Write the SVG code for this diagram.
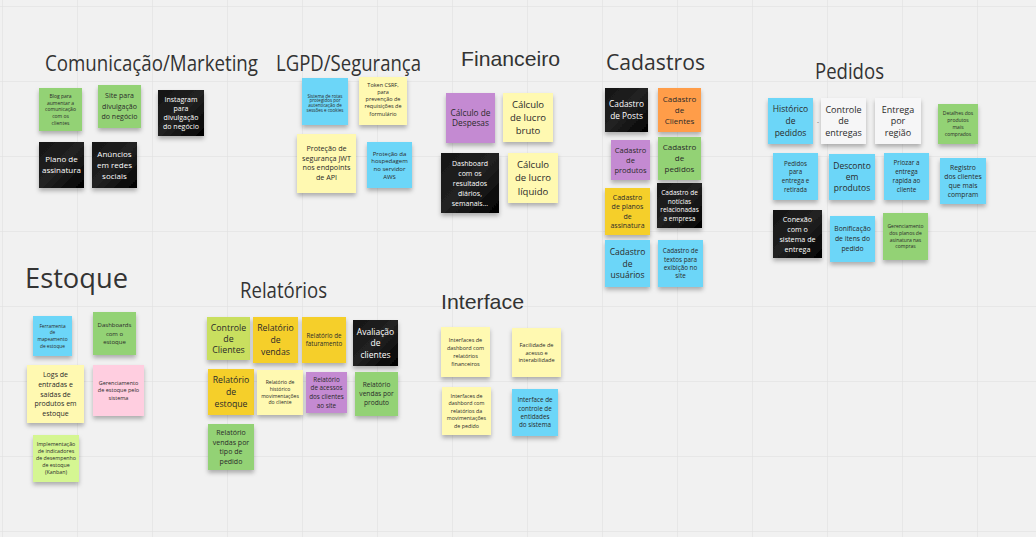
<svg xmlns="http://www.w3.org/2000/svg" width="1036" height="537" viewBox="0 0 1036 537">
  <defs>
    <pattern id="grid" x="2" y="6" width="75" height="75" patternUnits="userSpaceOnUse">
      <path d="M0 0 H75 M0 0 V75" fill="none" stroke="#e3e3e3" stroke-width="1.5"/>
    </pattern>
    <filter id="shadow" x="-20%" y="-20%" width="140%" height="150%">
      <feDropShadow dx="0" dy="3" stdDeviation="2" flood-color="#000" flood-opacity="0.28"/>
    </filter>
    <linearGradient id="blackNote" x1="0" y1="0" x2="1" y2="1">
      <stop offset="0" stop-color="#151515"/>
      <stop offset="0.5" stop-color="#222"/>
      <stop offset="1" stop-color="#000"/>
    </linearGradient>
  </defs>
  <style>
    .n { filter: url(#shadow); }
    .blue { fill: #6cd6f8; }
    .ly { fill: #fff9b1; }
    .yel { fill: #f5cf2c; }
    .org { fill: #ff9d48; }
    .vio { fill: #c48ad2; }
    .dg { fill: #93d275; }
    .lime { fill: #c9df5e; }
    .lg { fill: #d5f692; }
    .pink { fill: #ffcee0; }
    .gray { fill: #f6f6f7; }
    .blk { fill: url(#blackNote); }
    text { font-family: "Open Sans", "Liberation Sans", sans-serif; }
    .t { text-anchor: middle; fill: #2a2a2a; }
    .w { text-anchor: middle; fill: #ffffff; }
    .title { fill: #333333; font-size: 21px; }
    .titleA { fill: #333333; font-family: "Liberation Sans", Arial, sans-serif; font-size: 21px; }
  </style>

  <!-- board background -->
  <rect width="1036" height="537" fill="#f1f1f1"/>
  <rect width="1036" height="537" fill="url(#grid)"/>

  <!-- section titles -->
  <g id="titles">
    <text class="title" x="45" y="71" textLength="213" lengthAdjust="spacingAndGlyphs">Comunicação/Marketing</text>
    <text class="title" x="276" y="71" textLength="145" lengthAdjust="spacingAndGlyphs">LGPD/Segurança</text>
    <text class="titleA" x="461" y="66" textLength="99" lengthAdjust="spacingAndGlyphs">Financeiro</text>
    <text class="title" x="606" y="70" textLength="99" lengthAdjust="spacingAndGlyphs">Cadastros</text>
    <text class="title" x="815" y="79" textLength="69" lengthAdjust="spacingAndGlyphs">Pedidos</text>
    <text class="title" x="25" y="288" style="font-size:28px" textLength="103" lengthAdjust="spacingAndGlyphs">Estoque</text>
    <text class="title" x="240" y="298" textLength="87" lengthAdjust="spacingAndGlyphs">Relatórios</text>
    <text class="titleA" x="441" y="309" textLength="83" lengthAdjust="spacingAndGlyphs">Interface</text>
  </g>

  <!-- Comunicação/Marketing -->
  <g id="com-blog"><rect class="n dg" x="39" y="88" width="43" height="43"/>
    <text class="t" font-size="5"><tspan x="60.5" y="97.9">Blog para</tspan><tspan x="60.5" y="104.6">aumentar a</tspan><tspan x="60.5" y="111.3">comunicação</tspan><tspan x="60.5" y="118">com os</tspan><tspan x="60.5" y="124.7">clientes</tspan></text></g>
  <g id="com-site"><rect class="n dg" x="98" y="85" width="43" height="43"/>
    <text class="t" font-size="7"><tspan x="119.5" y="98">Site para</tspan><tspan x="119.5" y="108.5">divulgação</tspan><tspan x="119.5" y="119">do negócio</tspan></text></g>
  <g id="com-instagram"><rect class="n blk" x="158" y="90" width="46" height="46"/>
    <text class="w" font-size="7"><tspan x="181" y="102">Instagram</tspan><tspan x="181" y="111">para</tspan><tspan x="181" y="120">divulgação</tspan><tspan x="181" y="129">do negócio</tspan></text></g>
  <g id="com-plano"><rect class="n blk" x="39" y="142" width="45" height="46"/>
    <text class="w" font-size="8"><tspan x="61.5" y="162.3">Plano de</tspan><tspan x="61.5" y="173.3">assinatura</tspan></text></g>
  <g id="com-anuncios"><rect class="n blk" x="92" y="142" width="45" height="46"/>
    <text class="w" font-size="8"><tspan x="114.5" y="156.8">Anúncios</tspan><tspan x="114.5" y="167.8">em redes</tspan><tspan x="114.5" y="178.8">sociais</tspan></text></g>

  <!-- LGPD/Segurança -->
  <g id="lgpd-rotas"><rect class="n blue" x="302" y="78" width="46" height="47"/>
    <text class="t" font-size="4.5"><tspan x="325" y="97.5">Sistema de rotas</tspan><tspan x="325" y="102.4">protegidos por</tspan><tspan x="325" y="107.3">autenticação de</tspan><tspan x="325" y="112.2">sessões e cookies</tspan></text></g>
  <g id="lgpd-csrf"><rect class="n ly" x="359" y="77" width="48" height="48"/>
    <text class="t" font-size="5.5"><tspan x="383" y="86.5">Token CSRF,</tspan><tspan x="383" y="93.8">para</tspan><tspan x="383" y="101.1">prevenção de</tspan><tspan x="383" y="108.4">requisições de</tspan><tspan x="383" y="115.7">formulário</tspan></text></g>
  <g id="lgpd-jwt"><rect class="n ly" x="297" y="134" width="59" height="59"/>
    <text class="t" font-size="7.2"><tspan x="326.5" y="151">Proteção de</tspan><tspan x="326.5" y="160.5">segurança JWT</tspan><tspan x="326.5" y="170">nos endpoints</tspan><tspan x="326.5" y="179.5">de API</tspan></text></g>
  <g id="lgpd-aws"><rect class="n blue" x="367" y="142" width="45" height="46"/>
    <text class="t" font-size="6"><tspan x="389.5" y="155.7">Proteção da</tspan><tspan x="389.5" y="163.3">hospedagem</tspan><tspan x="389.5" y="170.9">no servidor</tspan><tspan x="389.5" y="178.5">AWS</tspan></text></g>

  <!-- Financeiro -->
  <g id="fin-despesas"><rect class="n vio" x="446" y="93" width="49" height="50"/>
    <text class="t" font-size="8.3"><tspan x="470.5" y="115.5">Cálculo de</tspan><tspan x="470.5" y="126.2">Despesas</tspan></text></g>
  <g id="fin-bruto"><rect class="n ly" x="503" y="93" width="50" height="49"/>
    <text class="t" font-size="9.5"><tspan x="528" y="107.5">Cálculo</tspan><tspan x="528" y="120.8">de lucro</tspan><tspan x="528" y="134.1">bruto</tspan></text></g>
  <g id="fin-dashboard"><rect class="n blk" x="441" y="153" width="58" height="60"/>
    <text class="w" font-size="7"><tspan x="470" y="165.5">Dashboard</tspan><tspan x="470" y="175.5">com os</tspan><tspan x="470" y="185.5">resultados</tspan><tspan x="470" y="195.5">diários,</tspan><tspan x="470" y="205.5">semanais...</tspan></text></g>
  <g id="fin-liquido"><rect class="n ly" x="508" y="153" width="50" height="50"/>
    <text class="t" font-size="9.5"><tspan x="533" y="168">Cálculo</tspan><tspan x="533" y="181.3">de lucro</tspan><tspan x="533" y="194.6">líquido</tspan></text></g>

  <!-- Cadastros -->
  <g id="cad-posts"><rect class="n blk" x="605" y="88" width="43" height="44"/>
    <text class="w" font-size="8.3"><tspan x="626.5" y="107.3">Cadastro</tspan><tspan x="626.5" y="118.6">de Posts</tspan></text></g>
  <g id="cad-clientes"><rect class="n org" x="658" y="88" width="43" height="44"/>
    <text class="t" font-size="8"><tspan x="679.5" y="101.5">Cadastro</tspan><tspan x="679.5" y="112.8">de</tspan><tspan x="679.5" y="124.1">Clientes</tspan></text></g>
  <g id="cad-produtos"><rect class="n vio" x="611" y="140" width="39" height="40"/>
    <text class="t" font-size="7.5"><tspan x="630.5" y="152.6">Cadastro</tspan><tspan x="630.5" y="162.6">de</tspan><tspan x="630.5" y="172.6">produtos</tspan></text></g>
  <g id="cad-pedidos"><rect class="n dg" x="658" y="137" width="43" height="43"/>
    <text class="t" font-size="8"><tspan x="679.5" y="150.3">Cadastro</tspan><tspan x="679.5" y="161.3">de</tspan><tspan x="679.5" y="172.3">pedidos</tspan></text></g>
  <g id="cad-planos"><rect class="n yel" x="605" y="188" width="45" height="47"/>
    <text class="t" font-size="7"><tspan x="627.5" y="199.7">Cadastro</tspan><tspan x="627.5" y="209.2">de planos</tspan><tspan x="627.5" y="218.7">de</tspan><tspan x="627.5" y="228.2">assinatura</tspan></text></g>
  <g id="cad-noticias"><rect class="n blk" x="657" y="183" width="45" height="45"/>
    <text class="w" font-size="6.5"><tspan x="679.5" y="195">Cadastro de</tspan><tspan x="679.5" y="203.5">notícias</tspan><tspan x="679.5" y="212">relacionadas</tspan><tspan x="679.5" y="220.5">a empresa</tspan></text></g>
  <g id="cad-usuarios"><rect class="n blue" x="605" y="240" width="45" height="47"/>
    <text class="t" font-size="8.5"><tspan x="627.5" y="254.8">Cadastro</tspan><tspan x="627.5" y="266.5">de</tspan><tspan x="627.5" y="278.2">usuários</tspan></text></g>
  <g id="cad-textos"><rect class="n blue" x="658" y="240" width="45" height="47"/>
    <text class="t" font-size="6.3"><tspan x="680.5" y="253.3">Cadastro de</tspan><tspan x="680.5" y="261.6">textos para</tspan><tspan x="680.5" y="269.9">exibição no</tspan><tspan x="680.5" y="278.2">site</tspan></text></g>

  <!-- Pedidos -->
  <g id="ped-historico"><rect class="n blue" x="768" y="98" width="45" height="46"/>
    <text class="t" font-size="8.5"><tspan x="790.5" y="112.3">Histórico</tspan><tspan x="790.5" y="124">de</tspan><tspan x="790.5" y="135.7">pedidos</tspan></text></g>
  <text class="t" x="818" y="124" font-size="6">-</text>
  <g id="ped-controle"><rect class="n gray" x="821" y="98" width="45" height="46"/>
    <text class="t" font-size="9"><tspan x="843.5" y="112.5">Controle</tspan><tspan x="843.5" y="124.2">de</tspan><tspan x="843.5" y="135.9">entregas</tspan></text></g>
  <g id="ped-regiao"><rect class="n gray" x="875" y="98" width="46" height="46"/>
    <text class="t" font-size="9"><tspan x="898" y="112.5">Entrega</tspan><tspan x="898" y="124.2">por</tspan><tspan x="898" y="135.9">região</tspan></text></g>
  <g id="ped-detalhes"><rect class="n dg" x="938" y="104" width="40" height="40"/>
    <text class="t" font-size="5"><tspan x="958" y="115.3">Detalhes dos</tspan><tspan x="958" y="122.3">produtos</tspan><tspan x="958" y="129.3">mais</tspan><tspan x="958" y="136.3">comprados</tspan></text></g>
  <g id="ped-entrega-retirada"><rect class="n blue" x="773" y="153" width="45" height="47"/>
    <text class="t" font-size="6.2"><tspan x="795.5" y="165.7">Pedidos</tspan><tspan x="795.5" y="174.4">para</tspan><tspan x="795.5" y="183.1">entrega e</tspan><tspan x="795.5" y="191.8">retirada</tspan></text></g>
  <g id="ped-desconto"><rect class="n blue" x="829" y="154" width="46" height="46"/>
    <text class="t" font-size="8.5"><tspan x="852" y="168.7">Desconto</tspan><tspan x="852" y="180">em</tspan><tspan x="852" y="191.3">produtos</tspan></text></g>
  <g id="ped-priorizar"><rect class="n blue" x="884" y="153" width="45" height="47"/>
    <text class="t" font-size="6.3"><tspan x="906.5" y="165.2">Priozar a</tspan><tspan x="906.5" y="174.2">entrega</tspan><tspan x="906.5" y="183.2">rapida ao</tspan><tspan x="906.5" y="192.2">cliente</tspan></text></g>
  <g id="ped-registro"><rect class="n blue" x="940" y="158" width="46" height="46"/>
    <text class="t" font-size="6.8"><tspan x="963" y="169.9">Registro</tspan><tspan x="963" y="178.9">dos clientes</tspan><tspan x="963" y="187.9">que mais</tspan><tspan x="963" y="196.9">compram</tspan></text></g>
  <g id="ped-conexao"><rect class="n blk" x="773" y="210" width="49" height="48"/>
    <text class="w" font-size="7.2"><tspan x="797.5" y="221.5">Conexão</tspan><tspan x="797.5" y="231.5">com o</tspan><tspan x="797.5" y="241.5">sistema de</tspan><tspan x="797.5" y="251.5">entrega</tspan></text></g>
  <g id="ped-bonificacao"><rect class="n blue" x="830" y="216" width="45" height="46"/>
    <text class="t" font-size="6.8"><tspan x="852.5" y="231.4">Bonificação</tspan><tspan x="852.5" y="241.4">de itens do</tspan><tspan x="852.5" y="251.4">pedido</tspan></text></g>
  <g id="ped-planos"><rect class="n dg" x="883" y="213" width="45" height="47"/>
    <text class="t" font-size="5"><tspan x="905.5" y="228.2">Gerenciamento</tspan><tspan x="905.5" y="234.9">dos planos de</tspan><tspan x="905.5" y="241.6">asinatura nas</tspan><tspan x="905.5" y="248.3">compras</tspan></text></g>

  <!-- Estoque -->
  <g id="est-ferramenta"><rect class="n blue" x="33" y="316" width="39" height="40"/>
    <text class="t" font-size="4.8"><tspan x="52.5" y="327.7">Ferramenta</tspan><tspan x="52.5" y="334.4">de</tspan><tspan x="52.5" y="341.1">mapeamento</tspan><tspan x="52.5" y="347.8">de estoque</tspan></text></g>
  <g id="est-dashboards"><rect class="n dg" x="93" y="312" width="43" height="43"/>
    <text class="t" font-size="6"><tspan x="114.5" y="327.3">Dashboards</tspan><tspan x="114.5" y="335.6">com o</tspan><tspan x="114.5" y="343.9">estoque</tspan></text></g>
  <g id="est-logs"><rect class="n ly" x="27" y="365" width="57" height="58"/>
    <text class="t" font-size="7"><tspan x="55.5" y="376.9">Logs de</tspan><tspan x="55.5" y="386.7">entradas e</tspan><tspan x="55.5" y="396.5">saídas de</tspan><tspan x="55.5" y="406.3">produtos em</tspan><tspan x="55.5" y="416.1">estoque</tspan></text></g>
  <g id="est-gerenciamento"><rect class="n pink" x="93" y="365" width="51" height="51"/>
    <text class="t" font-size="5.5"><tspan x="118.5" y="384.6">Gerenciamento</tspan><tspan x="118.5" y="392.4">de estoque pelo</tspan><tspan x="118.5" y="400.2">sistema</tspan></text></g>
  <g id="est-kanban"><rect class="n lg" x="33" y="435" width="46" height="47"/>
    <text class="t" font-size="5.3"><tspan x="56" y="446.4">Implementação</tspan><tspan x="56" y="453.4">de indicadores</tspan><tspan x="56" y="460.4">de desempenho</tspan><tspan x="56" y="467.4">de estoque</tspan><tspan x="56" y="474.4">(Kanban)</tspan></text></g>

  <!-- Relatórios -->
  <g id="rel-clientes"><rect class="n lime" x="207" y="317" width="43" height="43"/>
    <text class="t" font-size="8.8"><tspan x="228.5" y="330.6">Controle</tspan><tspan x="228.5" y="341.6">de</tspan><tspan x="228.5" y="352.6">Clientes</tspan></text></g>
  <g id="rel-vendas"><rect class="n yel" x="253" y="317" width="45" height="46"/>
    <text class="t" font-size="8.7"><tspan x="275.5" y="331.3">Relatório</tspan><tspan x="275.5" y="343">de</tspan><tspan x="275.5" y="354.7">vendas</tspan></text></g>
  <g id="rel-faturamento"><rect class="n yel" x="302" y="317" width="44" height="46"/>
    <text class="t" font-size="6.2"><tspan x="324" y="338">Relatório de</tspan><tspan x="324" y="346.3">faturamento</tspan></text></g>
  <g id="rel-avaliacao"><rect class="n blk" x="353" y="320" width="45" height="46"/>
    <text class="w" font-size="8.5"><tspan x="375.5" y="334.5">Avaliação</tspan><tspan x="375.5" y="346">de</tspan><tspan x="375.5" y="357.5">clientes</tspan></text></g>
  <g id="rel-estoque"><rect class="n yel" x="208" y="369" width="46" height="46"/>
    <text class="t" font-size="8.7"><tspan x="231" y="383.3">Relatório</tspan><tspan x="231" y="395">de</tspan><tspan x="231" y="406.7">estoque</tspan></text></g>
  <g id="rel-historico"><rect class="n ly" x="257" y="370" width="46" height="45"/>
    <text class="t" font-size="5.1"><tspan x="280" y="384.3">Relatório de</tspan><tspan x="280" y="391">histórico</tspan><tspan x="280" y="397.7">movimentações</tspan><tspan x="280" y="404.4">do cliente</tspan></text></g>
  <g id="rel-acessos"><rect class="n vio" x="306" y="372" width="41" height="41"/>
    <text class="t" font-size="6.3"><tspan x="326.5" y="381.7">Relatório</tspan><tspan x="326.5" y="390.4">de acessos</tspan><tspan x="326.5" y="399.1">dos clientes</tspan><tspan x="326.5" y="407.8">ao site</tspan></text></g>
  <g id="rel-produto"><rect class="n dg" x="355" y="372" width="43" height="44"/>
    <text class="t" font-size="6.6"><tspan x="376.5" y="387.3">Relatório</tspan><tspan x="376.5" y="396.3">vendas por</tspan><tspan x="376.5" y="405.3">produto</tspan></text></g>
  <g id="rel-tipo-pedido"><rect class="n dg" x="208" y="424" width="46" height="46"/>
    <text class="t" font-size="7"><tspan x="231" y="434.8">Relatório</tspan><tspan x="231" y="444.6">vendas por</tspan><tspan x="231" y="454.4">tipo de</tspan><tspan x="231" y="464.2">pedido</tspan></text></g>

  <!-- Interface -->
  <g id="int-financeiros"><rect class="n ly" x="441" y="327" width="49" height="50"/>
    <text class="t" font-size="5.5"><tspan x="465.5" y="341.5">Interfaces de</tspan><tspan x="465.5" y="349.8">dashbord com</tspan><tspan x="465.5" y="358.1">relatórios</tspan><tspan x="465.5" y="366.4">financeiros</tspan></text></g>
  <g id="int-acesso"><rect class="n ly" x="512" y="328" width="49" height="49"/>
    <text class="t" font-size="5.6"><tspan x="536.5" y="346.7">Facilidade de</tspan><tspan x="536.5" y="354.5">acesso e</tspan><tspan x="536.5" y="362.3">interabilidade</tspan></text></g>
  <g id="int-movimentacoes"><rect class="n ly" x="442" y="387" width="49" height="48"/>
    <text class="t" font-size="5.3"><tspan x="466.5" y="397.9">Interfaces de</tspan><tspan x="466.5" y="405.4">dashbord com</tspan><tspan x="466.5" y="412.9">relatórios da</tspan><tspan x="466.5" y="420.4">movimentações</tspan><tspan x="466.5" y="427.9">de pedido</tspan></text></g>
  <g id="int-entidades"><rect class="n blue" x="512" y="389" width="46" height="47"/>
    <text class="t" font-size="6.3"><tspan x="535" y="402.3">Interface de</tspan><tspan x="535" y="410.6">controle de</tspan><tspan x="535" y="418.9">entidades</tspan><tspan x="535" y="427.2">do sistema</tspan></text></g>

  <!-- no connectors on this board -->
  <g id="connectors"/>
</svg>
